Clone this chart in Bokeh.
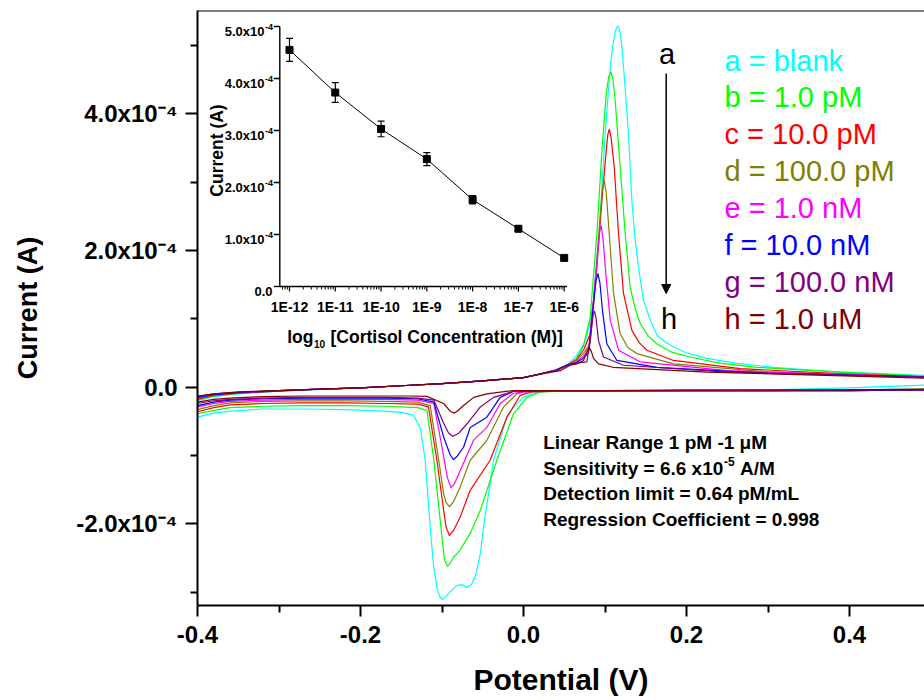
import numpy as np
from bokeh.plotting import figure
from bokeh.models import (Range1d, LogScale, FixedTicker, Label, Span, Arrow,
                          NormalHead, CustomJSTickFormatter, PrintfTickFormatter)
from bokeh.core.properties import value
from bokeh.embed import file_html
from bokeh.resources import INLINE

FONT = "Liberation Sans"

# ---------------- main CV data: potential (V), current (units of 1e-5 A) ----------------
A_FWD_V = [-0.400, -0.380, -0.350, -0.300, -0.250, -0.200, -0.150, -0.100, -0.050, 0.000, 0.020, 0.040,
           0.055, 0.065, 0.075, 0.0805, 0.0859, 0.0941, 0.1002, 0.1064, 0.1095, 0.1125, 0.1145, 0.1158,
           0.1172, 0.1188, 0.1205, 0.1227, 0.1258, 0.1288, 0.1329, 0.1370, 0.1411, 0.1472, 0.1555,
           0.1637, 0.174, 0.184, 0.200, 0.225, 0.260, 0.307, 0.389, 0.492]
A_FWD_I = [-2.0, -1.4, -1.0, -0.6, -0.35, -0.1, 0.2, 0.5, 0.9, 1.4, 1.9, 2.5,
           3.4, 4.6, 6.5, 8.8, 12.7, 24.9, 37.1, 46.8, 50.0, 52.0, 52.7, 52.8,
           52.5, 51.7, 50.0, 46.8, 42.0, 36.9, 27.3, 21.5, 17.5, 12.7, 9.8,
           7.6, 6.6, 5.9, 5.0, 4.2, 3.5, 2.9, 2.2, 1.7]
A_REV_V = [0.492, 0.40, 0.30, 0.20, 0.10, 0.050, 0.0287, 0.010, 0.000, -0.010, -0.0204, -0.0368, -0.049,
           -0.053, -0.0593, -0.064, -0.0695, -0.0757, -0.0817, -0.088, -0.094, -0.0994, -0.1030, -0.1063,
           -0.1105, -0.1145, -0.1206, -0.1268, -0.135, -0.150, -0.17, -0.22, -0.27, -0.32, -0.36, -0.38,
           -0.40]
A_REV_I = [0.3, -0.1, -0.4, -0.5, -0.6, -0.6, -0.6, -0.9, -1.5, -2.6, -4.4, -10.7, -20.5,
           -24.4, -27.8, -28.9, -29.3, -28.9, -29.0, -29.7, -30.5, -31.1, -30.6, -29.3,
           -26.0, -20.5, -10.7, -5.9, -4.1, -3.7, -3.5, -3.3, -3.2, -3.2, -3.5, -3.8,
           -4.4]

B_FWD_V = [-0.400, -0.380, -0.350, -0.300, -0.250, -0.200, -0.150, -0.100, -0.050, 0.000, 0.020, 0.040,
           0.055, 0.065, 0.0735, 0.0818, 0.090, 0.0962, 0.1015, 0.1045, 0.1072, 0.1098, 0.1125, 0.1186,
           0.1248, 0.1309, 0.1370, 0.1432, 0.1530, 0.1637, 0.180, 0.2045, 0.240, 0.286, 0.389, 0.492]
B_FWD_I = [-1.9, -1.3, -0.9, -0.6, -0.35, -0.1, 0.2, 0.5, 0.9, 1.4, 1.9, 2.5,
           3.3, 4.2, 6.0, 10.2, 22.4, 34.6, 42.9, 45.4, 46.1, 45.0, 41.9, 32.2,
           22.4, 14.6, 11.5, 9.3, 7.5, 6.3, 5.2, 4.4, 3.5, 2.9, 2.2, 1.6]
B_REV_V = [0.492, 0.40, 0.30, 0.20, 0.10, 0.050, 0.0205, 0.0041, -0.0123, -0.0327, -0.053, -0.0654,
           -0.0777, -0.0859, -0.0900, -0.0933, -0.0970, -0.1022, -0.110, -0.1185, -0.13, -0.17, -0.22,
           -0.27, -0.32, -0.36, -0.38, -0.40]
B_REV_I = [-0.3, -0.4, -0.5, -0.5, -0.6, -0.6, -0.7, -1.5, -3.9, -10.7, -18.0, -21.4,
           -23.8, -24.9, -25.8, -26.2, -25.3, -19.5, -10.7, -3.4, -3.0, -2.8, -2.7,
           -2.7, -2.8, -3.0, -3.4, -3.9]

C_FWD_V = [-0.400, -0.380, -0.350, -0.300, -0.250, -0.200, -0.150, -0.100, -0.050, 0.000, 0.020, 0.040,
           0.055, 0.065, 0.074, 0.0818, 0.090, 0.0962, 0.1015, 0.1035, 0.1052, 0.1075, 0.1113, 0.1166,
           0.1227, 0.133, 0.1420, 0.1514, 0.184, 0.266, 0.38, 0.492]
C_FWD_I = [-1.8, -1.2, -0.9, -0.55, -0.3, -0.1, 0.2, 0.5, 0.9, 1.4, 1.9, 2.5,
           3.3, 4.0, 5.5, 7.8, 17.5, 27.3, 34.6, 37.0, 37.7, 36.5, 32.2, 22.4,
           13.7, 8.3, 6.5, 5.4, 3.9, 2.7, 2.0, 1.5]
C_REV_V = [0.492, 0.40, 0.30, 0.20, 0.10, 0.050, 0.0123, -0.004, -0.0204, -0.041, -0.0654, -0.0777,
           -0.0860, -0.0908, -0.0950, -0.098, -0.1063, -0.1166, -0.13, -0.17, -0.22, -0.27, -0.32, -0.36,
           -0.38, -0.40]
C_REV_I = [-0.4, -0.5, -0.5, -0.5, -0.6, -0.6, -0.6, -1.2, -4.4, -10.7, -15.1, -19.0,
           -21.0, -21.7, -20.5, -18.0, -10.7, -2.9, -2.5, -2.4, -2.3, -2.3, -2.4, -2.6,
           -3.0, -3.6]

D_FWD_V = [-0.400, -0.380, -0.350, -0.300, -0.250, -0.200, -0.150, -0.100, -0.050, 0.000, 0.020, 0.040,
           0.055, 0.065, 0.074, 0.0818, 0.088, 0.094, 0.0968, 0.099, 0.1015, 0.1052, 0.1105, 0.1186,
           0.1280, 0.139, 0.184, 0.30, 0.492]
D_FWD_I = [-1.7, -1.2, -0.85, -0.55, -0.3, -0.1, 0.2, 0.5, 0.9, 1.4, 1.9, 2.5,
           3.3, 3.9, 5.0, 6.3, 15.1, 24.9, 29.0, 30.2, 28.5, 22.4, 13.7, 7.8,
           5.8, 4.9, 3.4, 2.2, 1.5]
D_REV_V = [0.492, 0.40, 0.30, 0.20, 0.10, 0.050, 0.000, -0.0081, -0.0245, -0.045, -0.0654, -0.0777,
           -0.0860, -0.0908, -0.0950, -0.098, -0.104, -0.1145, -0.13, -0.17, -0.22, -0.27, -0.32, -0.36,
           -0.38, -0.40]
D_REV_I = [-0.4, -0.5, -0.5, -0.5, -0.6, -0.6, -0.7, -1.0, -2.9, -7.8, -10.7, -14.6,
           -16.8, -17.5, -16.9, -15.6, -10.7, -2.7, -2.2, -2.1, -2.0, -2.0, -2.1, -2.3,
           -2.7, -3.3]

E_FWD_V = [-0.400, -0.380, -0.350, -0.300, -0.250, -0.200, -0.150, -0.100, -0.050, 0.000, 0.020, 0.040,
           0.055, 0.065, 0.073, 0.0798, 0.0859, 0.0908, 0.0935, 0.0953, 0.0975, 0.101, 0.1064, 0.1166,
           0.143, 0.25, 0.492]
E_FWD_I = [-1.6, -1.1, -0.8, -0.5, -0.3, -0.1, 0.2, 0.5, 0.9, 1.4, 1.9, 2.5,
           3.3, 3.7, 4.5, 5.4, 12.7, 19.5, 22.8, 23.6, 21.8, 16.6, 9.8, 5.4,
           3.7, 2.4, 1.5]
E_REV_V = [0.492, 0.40, 0.30, 0.20, 0.10, 0.050, 0.000, -0.0123, -0.0286, -0.045, -0.0614, -0.0777,
           -0.0850, -0.089, -0.0935, -0.100, -0.110, -0.13, -0.17, -0.22, -0.27, -0.32, -0.36, -0.38,
           -0.40]
E_REV_I = [-0.4, -0.5, -0.5, -0.5, -0.6, -0.6, -0.7, -0.9, -2.4, -5.9, -7.8, -12.2,
           -14.2, -14.7, -13.2, -8.8, -2.4, -1.9, -1.8, -1.8, -1.8, -1.9, -2.1, -2.4,
           -2.9]

F_FWD_V = [-0.400, -0.380, -0.350, -0.300, -0.250, -0.200, -0.150, -0.100, -0.050, 0.000, 0.020, 0.040,
           0.055, 0.065, 0.073, 0.0798, 0.0851, 0.0890, 0.0913, 0.0938, 0.0969, 0.1023, 0.1146, 0.1637,
           0.30, 0.492]
F_FWD_I = [-1.5, -1.1, -0.8, -0.5, -0.3, -0.1, 0.2, 0.5, 0.9, 1.4, 1.9, 2.5,
           3.3, 3.6, 4.2, 5.0, 11.2, 15.6, 16.6, 15.2, 11.2, 6.3, 3.9, 2.9,
           2.0, 1.5]
F_REV_V = [0.492, 0.40, 0.30, 0.20, 0.10, 0.050, 0.000, -0.0123, -0.0286, -0.045, -0.0654, -0.0736,
           -0.0820, -0.0859, -0.0900, -0.098, -0.110, -0.13, -0.17, -0.22, -0.27, -0.32, -0.36, -0.38,
           -0.40]
F_REV_I = [-0.4, -0.5, -0.5, -0.5, -0.5, -0.5, -0.6, -0.6, -1.5, -4.4, -5.9, -8.8,
           -10.2, -10.6, -9.9, -7.3, -2.2, -1.7, -1.6, -1.6, -1.6, -1.7, -1.9, -2.2,
           -2.7]

G_FWD_V = [-0.400, -0.380, -0.350, -0.300, -0.250, -0.200, -0.150, -0.100, -0.050, 0.000, 0.020, 0.040,
           0.055, 0.065, 0.0777, 0.0827, 0.0855, 0.0871, 0.0890, 0.092, 0.0982, 0.1227, 0.25, 0.492]
G_FWD_I = [-1.4, -1.0, -0.75, -0.5, -0.3, -0.1, 0.2, 0.5, 0.9, 1.4, 1.9, 2.4,
           3.2, 3.5, 3.7, 7.8, 10.6, 11.1, 10.1, 6.8, 4.4, 3.2, 2.2, 1.5]
G_REV_V = [0.492, 0.40, 0.30, 0.20, 0.10, 0.050, 0.000, -0.0123, -0.0368, -0.053, -0.0695, -0.0800,
           -0.0866, -0.0920, -0.098, -0.110, -0.13, -0.17, -0.22, -0.27, -0.32, -0.36, -0.38, -0.40]
G_REV_I = [-0.4, -0.4, -0.5, -0.5, -0.5, -0.5, -0.5, -0.6, -1.5, -2.9, -5.4, -6.8,
           -7.2, -6.7, -5.3, -1.9, -1.6, -1.5, -1.5, -1.5, -1.6, -1.8, -2.0, -2.4]

H_FWD_V = [-0.400, -0.380, -0.350, -0.300, -0.250, -0.200, -0.150, -0.100, -0.050, 0.000, 0.020, 0.045,
           0.0573, 0.0655, 0.0736, 0.0780, 0.0806, 0.0830, 0.0859, 0.092, 0.110, 0.225, 0.492]
H_FWD_I = [-1.3, -1.0, -0.7, -0.5, -0.3, -0.1, 0.2, 0.5, 0.9, 1.4, 1.9, 2.4,
           3.2, 3.4, 3.9, 5.3, 5.8, 5.3, 4.2, 3.4, 2.9, 2.2, 1.3]
H_REV_V = [0.492, 0.40, 0.30, 0.20, 0.10, 0.050, 0.000, -0.0123, -0.045, -0.061, -0.0736, -0.0820,
           -0.0859, -0.0900, -0.098, -0.1185, -0.14, -0.17, -0.22, -0.27, -0.32, -0.36, -0.38, -0.40]
H_REV_I = [-0.3, -0.4, -0.4, -0.4, -0.5, -0.5, -0.5, -0.5, -1.0, -1.5, -2.7, -3.6,
           -3.8, -3.5, -2.4, -1.35, -1.3, -1.3, -1.3, -1.3, -1.4, -1.6, -1.8, -2.2]

CURVE_LABELS = ["a = blank", "b = 1.0 pM", "c = 10.0 pM", "d = 100.0 pM",
                "e = 1.0 nM", "f = 10.0 nM", "g = 100.0 nM", "h = 1.0 uM"]
CURVE_COLORS = ["#00FFFF", "#00FF00", "#FF0000", "#808000",
                "#FF00FF", "#0000FF", "#800080", "#800000"]

# ---------------- inset data ----------------
CONC = [1e-12, 1e-11, 1e-10, 1e-9, 1e-8, 1e-7, 1e-6]
PEAK_I = [4.55e-4, 3.73e-4, 3.03e-4, 2.45e-4, 1.67e-4, 1.11e-4, 0.55e-4]
PEAK_ERR = [0.22e-4, 0.19e-4, 0.15e-4, 0.125e-4, 0.08e-4, 0.05e-4, 0.03e-4]
INSET_X_LABELS = ["1E-12", "1E-11", "1E-10", "1E-9", "1E-8", "1E-7", "1E-6"]
INSET_Y_TICKS = [0.0, 1e-4, 2e-4, 3e-4, 4e-4, 5e-4]
INSET_Y_BASE = ["0.0", "1.0x10", "2.0x10", "3.0x10", "4.0x10", "5.0x10"]
INSET_Y_SUP = ["", "-4", "-4", "-4", "-4", "-4"]

MAIN_X_TICKS = [-0.4, -0.2, 0.0, 0.2, 0.4]
MAIN_Y_TICKS = [-2e-4, 0.0, 2e-4, 4e-4]
MAIN_Y_LABELS = ["-2.0x10\u207b\u2074", "0.0", "2.0x10\u207b\u2074", "4.0x10\u207b\u2074"]

INFO_LINES = ["Linear Range 1 pM -1 \u03bcM", None,
              "Detection limit = 0.64 pM/mL", "Regression Coefficient = 0.998"]

# ---------------- geometry ----------------
W, H = 924, 700
BL, BR, BT, BB = 197, 0, 10, 95
FL, FR, FT, FB = BL, W - BR, BT, H - BB
X_START, X_END = -0.4, 0.492
Y_END = 5.51e-4
DY_PX = 1e-4 / 68.35                      # amperes per pixel (vertical)
Y_START = Y_END - (FB - FT) * DY_PX


def px2x(px):
    return X_START + (px - FL) * (X_END - X_START) / (FR - FL)


def py2y(py):
    return Y_END - (py - FT) * DY_PX


# inset mapping (log x, linear y) expressed as extra ranges over the same frame
IN_REF_PX, IN_DEC_PX = 289.0, 45.78      # 1E-12 position, pixels per decade
IN_Y0_PX, IN_PX_PER = 286.0, 52.0 / 1e-4  # y=0 position, pixels per ampere
IX_START = 10 ** (-12 - (IN_REF_PX - FL) / IN_DEC_PX)
IX_END = 10 ** (-12 + (FR - IN_REF_PX) / IN_DEC_PX)
IY_END = (IN_Y0_PX - FT) / IN_PX_PER
IY_START = -(FB - IN_Y0_PX) / IN_PX_PER


def ipx2x(px):
    return 10 ** (-12 + (px - IN_REF_PX) / IN_DEC_PX)


def ipy2y(py):
    return (IN_Y0_PX - py) / IN_PX_PER


p = figure(width=W, height=H, x_range=Range1d(X_START, X_END), y_range=Range1d(Y_START, Y_END),
           output_backend="svg", toolbar_location=None,
           min_border_left=BL, min_border_right=BR, min_border_top=BT, min_border_bottom=BB)
p.grid.visible = False
p.outline_line_color = None
p.background_fill_color = "white"
p.border_fill_color = "white"

p.extra_x_ranges = {"ix": Range1d(IX_START, IX_END)}
p.extra_x_scales = {"ix": LogScale()}
p.extra_y_ranges = {"iy": Range1d(IY_START, IY_END)}

# ---- axes ----
xa = p.xaxis[0]
xa.ticker = FixedTicker(ticks=MAIN_X_TICKS, minor_ticks=[-0.3, -0.1, 0.1, 0.3])
xa.formatter = PrintfTickFormatter(format="%.1f")
ya = p.yaxis[0]
ya.ticker = FixedTicker(ticks=MAIN_Y_TICKS, minor_ticks=[-3e-4, -1e-4, 1e-4, 3e-4, 5e-4])
ya.formatter = CustomJSTickFormatter(
    args=dict(tvals=MAIN_Y_TICKS, tlabels=MAIN_Y_LABELS),
    code="for (let i = 0; i < tvals.length; i++) { if (Math.abs(tick - tvals[i]) < 1e-9) return tlabels[i]; } return '';")
for ax, tout, mout in ((xa, 11, 7), (ya, 12, 7)):
    ax.axis_line_width = 2
    ax.axis_line_color = "black"
    ax.major_tick_line_width = 2
    ax.minor_tick_line_width = 2
    ax.major_tick_line_color = "black"
    ax.minor_tick_line_color = "black"
    ax.major_tick_out = tout
    ax.major_tick_in = 0
    ax.minor_tick_out = mout
    ax.minor_tick_in = 0
    ax.major_label_text_font = FONT
    ax.major_label_text_font_size = "24px"
    ax.major_label_text_font_style = "bold"
    ax.major_label_text_color = "black"
    ax.axis_label_text_font = FONT
    ax.axis_label_text_font_style = "bold"
    ax.axis_label_text_color = "black"
xa.major_label_standoff = 9
xa.major_label_text_line_height = 0.95
ya.major_label_standoff = 8
xa.axis_label = "Potential (V)"
xa.axis_label_text_font_size = "30px"
xa.axis_label_text_line_height = 0.95
xa.axis_label_standoff = 17
ya.axis_label = "Current (A)"
ya.axis_label_text_font_size = "27px"
ya.axis_label_standoff = 30

p.add_layout(Span(location=Y_END, dimension="width", line_color="black", line_width=2))


def lab(x, y, text, size, bold=True, color="black", align="left", baseline="alphabetic", angle=0.0):
    p.add_layout(Label(x=x, y=y, text=text, text_font=FONT, text_font_size=f"{size}px",
                       text_font_style="bold" if bold else "normal", text_color=color,
                       text_align=align, text_baseline=baseline, angle=angle))


# ---- CV curves ----
FWD = [(A_FWD_V, A_FWD_I), (B_FWD_V, B_FWD_I), (C_FWD_V, C_FWD_I), (D_FWD_V, D_FWD_I),
       (E_FWD_V, E_FWD_I), (F_FWD_V, F_FWD_I), (G_FWD_V, G_FWD_I), (H_FWD_V, H_FWD_I)]
REV = [(A_REV_V, A_REV_I), (B_REV_V, B_REV_I), (C_REV_V, C_REV_I), (D_REV_V, D_REV_I),
       (E_REV_V, E_REV_I), (F_REV_V, F_REV_I), (G_REV_V, G_REV_I), (H_REV_V, H_REV_I)]
for (fv, fi), (rv, ri), col in zip(FWD, REV, CURVE_COLORS):
    p.line(fv, np.array(fi) * 1e-5, line_color=col, line_width=1.2, line_join="round")
    p.line(rv, np.array(ri) * 1e-5, line_color=col, line_width=1.2, line_join="round")

# legend-like labels
LEG_BASE = [60.0, 96.9, 133.7, 170.6, 207.4, 244.3, 281.1, 318.0]
for txt, col, b in zip(CURVE_LABELS, CURVE_COLORS, LEG_BASE):
    lab(px2x(724), py2y(b), txt, 29, bold=False, color=col)

lab(px2x(666.5), py2y(53.3), "a", 29, bold=False, align="center")
lab(px2x(668.5), py2y(318.3), "h", 29, bold=False, align="center")
p.add_layout(Arrow(end=NormalHead(size=9, fill_color="black", line_color="black", line_width=1),
                   x_start=px2x(665.7), y_start=py2y(73), x_end=px2x(665.7), y_end=py2y(293),
                   line_color="black", line_width=1.5))

# info text
INFO_BASE = [441.7, 467.5, 493.3, 519.1]
for txt, b in zip(INFO_LINES, INFO_BASE):
    if txt is not None:
        lab(px2x(542.7), py2y(b), txt, 19)
lab(px2x(542.7), py2y(INFO_BASE[1]), "Sensitivity = 6.6 x10", 19)
lab(px2x(723.5), py2y(INFO_BASE[1] - 7), "-5", 12)
lab(px2x(739.5), py2y(INFO_BASE[1]), "A/M", 19)

# ---- inset ----
IR = dict(x_range_name="ix", y_range_name="iy")
IX0, IX1 = ipx2x(279.3), ipx2x(566.5)
p.segment(x0=[IX0, IX0], y0=[0.0, 0.0], x1=[IX0, IX1], y1=[5e-4, 0.0],
          line_color="black", line_width=1.4, **IR)
# ticks
p.ray(x=[IX0] * len(INSET_Y_TICKS), y=INSET_Y_TICKS, length=6, length_units="screen",
      angle=np.pi, line_color="black", line_width=1.3, **IR)
p.ray(x=CONC, y=[0.0] * len(CONC), length=5, length_units="screen",
      angle=-np.pi / 2, line_color="black", line_width=1.2, **IR)
minor = [m * 10.0 ** k for k in range(-13, -6) for m in range(2, 10)]
minor = [t for t in minor if IX0 < t < IX1 and t not in CONC]
p.ray(x=minor, y=[0.0] * len(minor), length=3, length_units="screen",
      angle=-np.pi / 2, line_color="black", line_width=1.0, **IR)
# inset tick labels
p.text(x=CONC, y=[ipy2y(306)] * len(CONC), text=INSET_X_LABELS, text_font=value(FONT),
       text_font_size=value("14px"), text_font_style="bold", text_align="center",
       text_baseline="alphabetic", text_color="black", **IR)
ylab_x = ipx2x(264)
ybase_y = [t - 4.7 / IN_PX_PER for t in INSET_Y_TICKS]
p.text(x=[ylab_x] * 5, y=ybase_y[1:], text=INSET_Y_BASE[1:], text_font=value(FONT),
       text_font_size=value("13px"), text_font_style="bold", text_align="right",
       text_baseline="alphabetic", text_color="black", **IR)
p.text(x=[ipx2x(272)], y=[ybase_y[0]], text=[INSET_Y_BASE[0]], text_font=value(FONT),
       text_font_size=value("13px"), text_font_style="bold", text_align="right",
       text_baseline="alphabetic", text_color="black", **IR)
p.text(x=[ipx2x(264.5)] * 5, y=[t - 0.5 / IN_PX_PER for t in INSET_Y_TICKS[1:]], text=INSET_Y_SUP[1:],
       text_font=value(FONT), text_font_size=value("9px"), text_font_style="bold",
       text_align="left", text_baseline="alphabetic", text_color="black", **IR)
# inset axis titles
lab(px2x(216), py2y(150), "Current (A)", 17.5, align="center", angle=np.pi / 2)
lab(px2x(313), py2y(336.5), "log", 17.5, align="right")
lab(px2x(313.5), py2y(343), "10", 10, align="left")
lab(px2x(330), py2y(336.5), "[Cortisol Concentration (M)]", 17.5, align="left")
# inset data
lo = [c - e for c, e in zip(PEAK_I, PEAK_ERR)]
hi = [c + e for c, e in zip(PEAK_I, PEAK_ERR)]
p.segment(x0=CONC, y0=lo, x1=CONC, y1=hi, line_color="black", line_width=1.2, **IR)
p.scatter(x=CONC + CONC, y=lo + hi, marker="dash", size=7, line_color="black", line_width=1.2, **IR)
p.line(x=CONC, y=PEAK_I, line_color="black", line_width=1.0, **IR)
p.scatter(x=CONC, y=PEAK_I, marker="square", size=7, fill_color="black", line_color="black", **IR)

open("out.html", "w").write(file_html(p, INLINE))
